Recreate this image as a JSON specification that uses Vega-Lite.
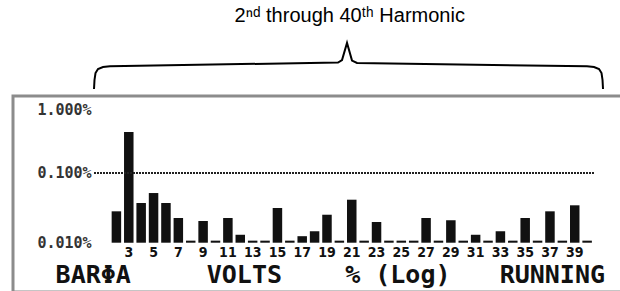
{
  "$schema": "https://vega.github.io/schema/vega-lite/v6.json",
  "background": "white",
  "padding": {"left": 11, "top": 0, "right": 0, "bottom": 0},
  "config": {"view": {"stroke": null}, "concat": {"spacing": 0}},
  "datasets": {
    "harm": [
      {"h": 2, "v": 0.0282}, {"h": 3, "v": 0.387}, {"h": 4, "v": 0.0371}, {"h": 5, "v": 0.0516},
      {"h": 6, "v": 0.0371}, {"h": 7, "v": 0.0226}, {"h": 8, "v": 0.0107}, {"h": 9, "v": 0.0205},
      {"h": 10, "v": 0.0107}, {"h": 11, "v": 0.0226}, {"h": 12, "v": 0.013}, {"h": 13, "v": 0.0107},
      {"h": 14, "v": 0.0107}, {"h": 15, "v": 0.0315}, {"h": 16, "v": 0.0107}, {"h": 17, "v": 0.0124},
      {"h": 18, "v": 0.0146}, {"h": 19, "v": 0.0252}, {"h": 20, "v": 0.0107}, {"h": 21, "v": 0.0414},
      {"h": 22, "v": 0.0107}, {"h": 23, "v": 0.0198}, {"h": 24, "v": 0.0107}, {"h": 25, "v": 0.0107},
      {"h": 26, "v": 0.0107}, {"h": 27, "v": 0.0226}, {"h": 28, "v": 0.0107}, {"h": 29, "v": 0.021},
      {"h": 30, "v": 0.0107}, {"h": 31, "v": 0.013}, {"h": 32, "v": 0.0107}, {"h": 33, "v": 0.0146},
      {"h": 34, "v": 0.0107}, {"h": 35, "v": 0.0226}, {"h": 36, "v": 0.0107}, {"h": 37, "v": 0.0282},
      {"h": 38, "v": 0.0107}, {"h": 39, "v": 0.0344}, {"h": 40, "v": 0.0107}
    ],
    "ylabels": [
      {"t": "1.000%", "v": 1}, {"t": "0.100%", "v": 0.1}, {"t": "0.010%", "v": 0.01}
    ],
    "status": [
      {"t": "BARΦA", "h": 0.13}, {"t": "VOLTS", "h": 12.33}, {"t": "% (Log)", "h": 24.72}, {"t": "RUNNING", "h": 37.19}
    ],
    "brace": [
      {"h": 0.491, "f": 0.043}, {"h": 0.53, "f": 0.14}, {"h": 0.61, "f": 0.215}, {"h": 0.808, "f": 0.258},
      {"h": 1.206, "f": 0.28}, {"h": 1.761, "f": 0.287}, {"h": 19.871, "f": 0.328}, {"h": 20.189, "f": 0.355},
      {"h": 20.586, "f": 0.538}, {"h": 20.983, "f": 0.349}, {"h": 21.38, "f": 0.323}, {"h": 39.649, "f": 0.287},
      {"h": 40.205, "f": 0.28}, {"h": 40.602, "f": 0.258}, {"h": 40.8, "f": 0.215}, {"h": 40.88, "f": 0.14},
      {"h": 40.919, "f": 0.043}
    ],
    "title": [{"t": "2ⁿᵈ through 40ᵗʰ Harmonic", "h": 20.8, "f": 0.76}]
  },
  "vconcat": [
    {
      "width": 620,
      "height": 93,
      "layer": [
        {
          "data": {"name": "title"},
          "mark": {"type": "text", "font": "Liberation Sans", "fontSize": 20, "align": "center", "baseline": "alphabetic", "color": "#000"},
          "encoding": {
            "x": {"field": "h", "type": "quantitative", "scale": {"domain": [-5.943, 43.3]}, "axis": null},
            "y": {"field": "f", "type": "quantitative", "scale": {"domain": [0, 1]}, "axis": null},
            "text": {"field": "t"}
          }
        },
        {
          "data": {"name": "brace"},
          "mark": {"type": "line", "color": "#000", "strokeWidth": 2},
          "encoding": {
            "x": {"field": "h", "type": "quantitative", "scale": {"domain": [-5.943, 43.3]}, "axis": null},
            "y": {"field": "f", "type": "quantitative", "scale": {"domain": [0, 1]}, "axis": null}
          }
        }
      ]
    },
    {
      "width": 620,
      "height": 196,
      "view": {"stroke": "#8c8c8c", "strokeWidth": 3, "fill": "white"},
      "encoding": {
        "x": {"type": "quantitative", "scale": {"domain": [-5.943, 43.3]}, "axis": null},
        "y": {"type": "quantitative", "scale": {"type": "log", "domain": [0.001962, 1.273]}, "axis": null}
      },
      "layer": [
        {
          "data": {"name": "harm"},
          "mark": {"type": "bar", "width": 9.5, "color": "#111"},
          "encoding": {
            "x": {"field": "h", "type": "quantitative"},
            "y": {"field": "v", "type": "quantitative"},
            "y2": {"datum": 0.01}
          }
        },
        {
          "data": {"name": "harm"},
          "mark": {"type": "rule", "color": "#222", "strokeWidth": 2, "strokeDash": [1.5, 1.5]},
          "encoding": {
            "x": {"datum": 0.2},
            "x2": {"datum": 40.6},
            "y": {"datum": 0.1}
          }
        },
        {
          "data": {"name": "harm"},
          "transform": [{"filter": "datum.h % 2 == 1"}],
          "mark": {"type": "text", "font": "DejaVu Sans Condensed", "fontWeight": "bold", "fontSize": 14, "align": "center", "baseline": "middle", "color": "#111"},
          "encoding": {
            "x": {"field": "h", "type": "quantitative"},
            "y": {"datum": 0.00705},
            "text": {"field": "h"}
          }
        },
        {
          "data": {"name": "ylabels"},
          "transform": [{"filter": "datum.v < 1"}],
          "mark": {"type": "text", "font": "DejaVu Sans Mono", "fontWeight": "bold", "fontSize": 15, "align": "right", "baseline": "middle", "color": "#333"},
          "encoding": {
            "x": {"datum": 0},
            "y": {"field": "v", "type": "quantitative"},
            "text": {"field": "t"}
          }
        },
        {
          "data": {"name": "ylabels"},
          "transform": [{"filter": "datum.v == 1"}],
          "mark": {"type": "text", "font": "DejaVu Sans Mono", "fontWeight": "bold", "fontSize": 15, "align": "right", "baseline": "middle", "dy": 7, "color": "#333"},
          "encoding": {
            "x": {"datum": 0},
            "y": {"field": "v", "type": "quantitative"},
            "text": {"field": "t"}
          }
        },
        {
          "data": {"name": "status"},
          "mark": {"type": "text", "font": "DejaVu Sans Mono", "fontWeight": "bold", "fontSize": 25, "align": "center", "baseline": "middle", "color": "#111"},
          "encoding": {
            "x": {"field": "h", "type": "quantitative"},
            "y": {"datum": 0.00344},
            "text": {"field": "t"}
          }
        }
      ]
    }
  ]
}
